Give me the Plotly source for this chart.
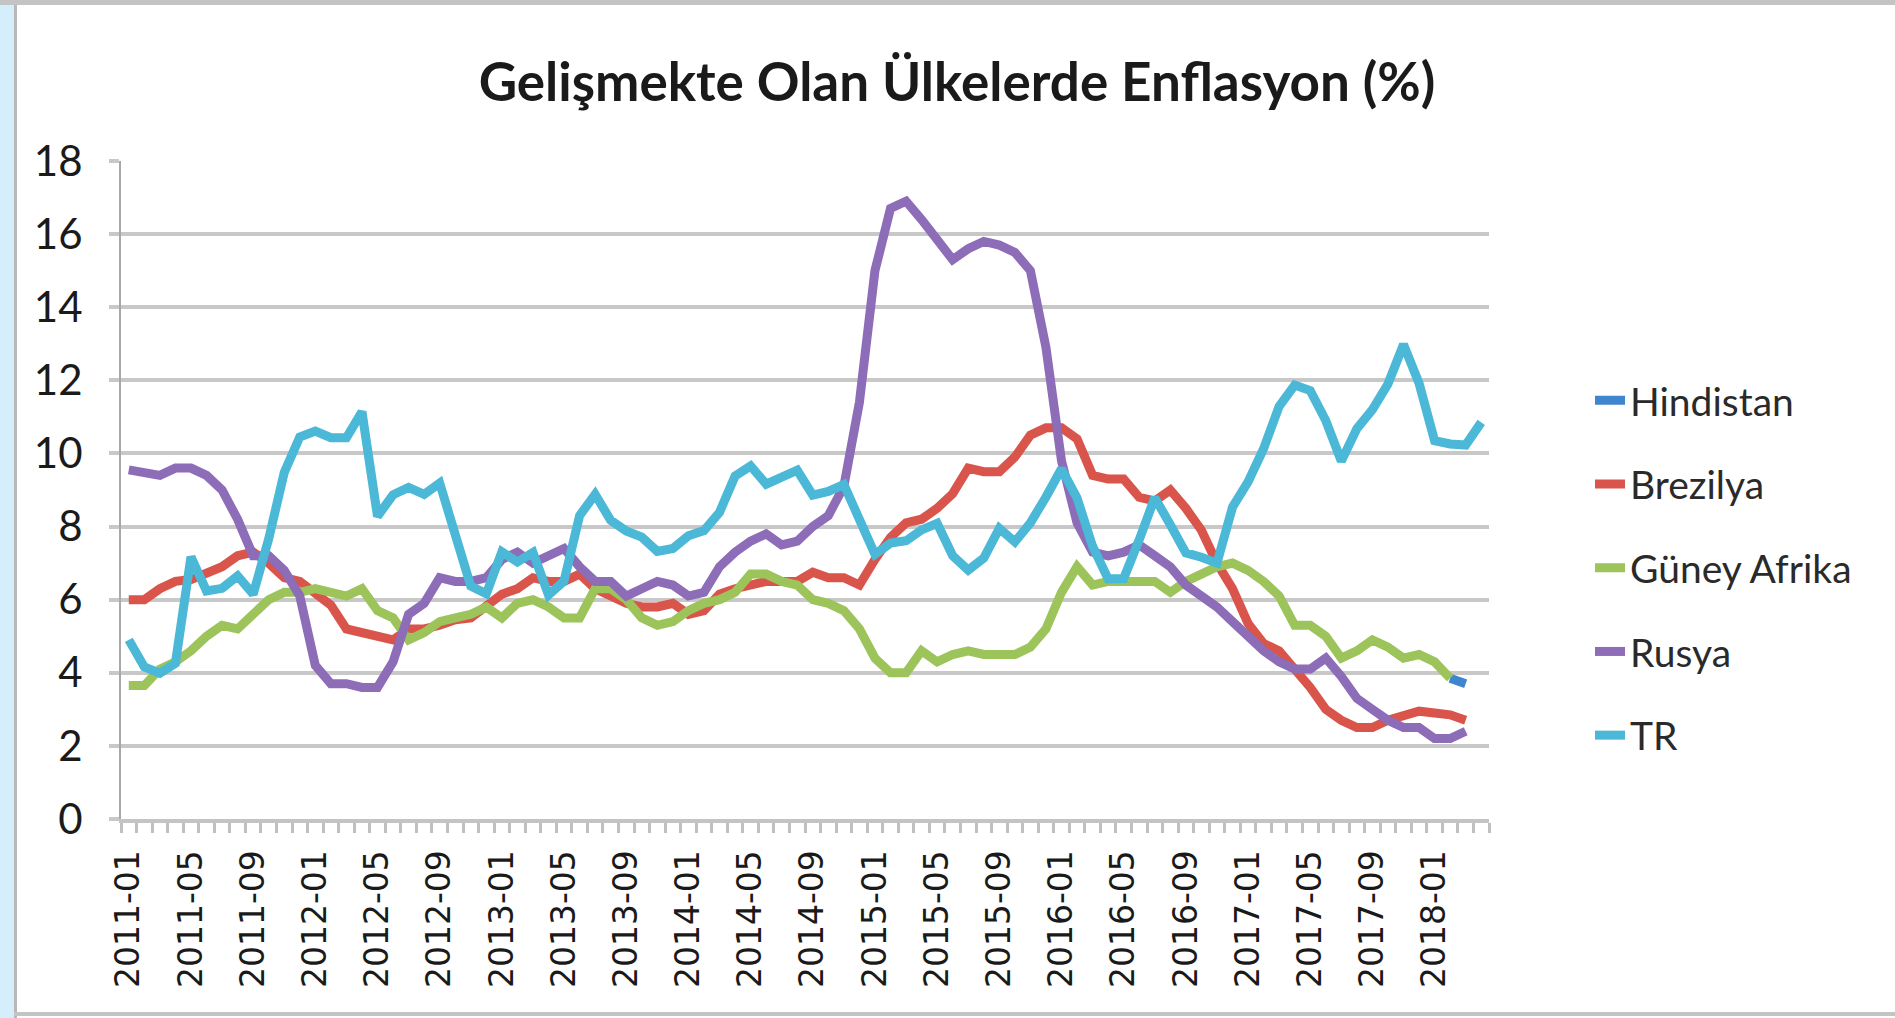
import plotly.graph_objects as go

# ---------------- data ----------------
years = list(range(2011, 2019))
months = [f"{y}-{m:02d}" for y in years for m in range(1, 13)][:88]   # 2011-01 .. 2018-04

hindistan = [None] * 85 + [3.85, 3.7, None]

brezilya = [
    6.0, 6.0, 6.3, 6.5, 6.55, 6.7, 6.9, 7.2, 7.3, 7.0, 6.6, 6.5,
    6.2, 5.85, 5.2, 5.1, 5.0, 4.9, 5.2, 5.2, 5.3, 5.45, 5.5, 5.8,
    6.15, 6.3, 6.6, 6.5, 6.5, 6.7, 6.3, 6.1, 5.9, 5.8, 5.8, 5.9,
    5.6, 5.7, 6.15, 6.3, 6.4, 6.5, 6.5, 6.5, 6.75, 6.6, 6.6, 6.4,
    7.1, 7.7, 8.1, 8.2, 8.5, 8.9, 9.6, 9.5, 9.5, 9.9, 10.5, 10.7,
    10.7, 10.4, 9.4, 9.3, 9.3, 8.8, 8.7, 9.0, 8.5, 7.9, 7.0, 6.3,
    5.35, 4.8, 4.6, 4.1, 3.6, 3.0, 2.7, 2.5, 2.5, 2.7, 2.8, 2.95,
    2.9, 2.85, 2.7, None,
]

guney_afrika = [
    3.65, 3.65, 4.1, 4.3, 4.6, 5.0, 5.3, 5.2, 5.6, 6.0, 6.2, 6.2,
    6.3, 6.2, 6.1, 6.3, 5.7, 5.5, 4.9, 5.1, 5.4, 5.5, 5.6, 5.8,
    5.5, 5.9, 6.0, 5.8, 5.5, 5.5, 6.3, 6.3, 6.0, 5.5, 5.3, 5.4,
    5.7, 5.9, 6.0, 6.2, 6.7, 6.7, 6.5, 6.4, 6.0, 5.9, 5.7, 5.2,
    4.4, 4.0, 4.0, 4.6, 4.3, 4.5, 4.6, 4.5, 4.5, 4.5, 4.7, 5.2,
    6.2, 6.9, 6.4, 6.5, 6.5, 6.5, 6.5, 6.2, 6.5, 6.7, 6.9, 7.0,
    6.8, 6.5, 6.1, 5.3, 5.3, 5.0, 4.4, 4.6, 4.9, 4.7, 4.4, 4.5,
    4.3, 3.85, None, None,
]

rusya = [
    9.55, 9.5, 9.4, 9.6, 9.6, 9.4, 9.0, 8.2, 7.2, 7.2, 6.8, 6.1,
    4.2, 3.7, 3.7, 3.6, 3.6, 4.3, 5.6, 5.9, 6.6, 6.5, 6.5, 6.6,
    7.1, 7.3, 7.0, 7.2, 7.4, 6.9, 6.5, 6.5, 6.1, 6.3, 6.5, 6.4,
    6.1, 6.2, 6.9, 7.3, 7.6, 7.8, 7.5, 7.6, 8.0, 8.3, 9.1, 11.4,
    15.0, 16.7, 16.9, 16.4, 15.8, 15.3, 15.6, 15.8, 15.7, 15.5, 15.0, 12.9,
    9.8, 8.1, 7.3, 7.2, 7.3, 7.5, 7.2, 6.9, 6.4, 6.1, 5.8, 5.4,
    5.0, 4.6, 4.3, 4.1, 4.1, 4.4, 3.9, 3.3, 3.0, 2.7, 2.5, 2.5,
    2.2, 2.2, 2.4, None,
]

tr = [
    4.90, 4.16, 3.99, 4.26, 7.17, 6.24, 6.31, 6.65, 6.15, 7.66, 9.48, 10.45,
    10.61, 10.43, 10.43, 11.14, 8.28, 8.87, 9.07, 8.88, 9.19, 7.80, 6.37, 6.16,
    7.31, 7.03, 7.29, 6.13, 6.51, 8.30, 8.88, 8.17, 7.88, 7.71, 7.32, 7.40,
    7.75, 7.89, 8.39, 9.38, 9.66, 9.16, 9.32, 9.54, 8.86, 8.96, 9.15, 8.17,
    7.24, 7.55, 7.61, 7.91, 8.09, 7.20, 6.81, 7.14, 7.95, 7.58, 8.10, 8.81,
    9.58, 8.78, 7.46, 6.57, 6.58, 7.64, 8.79, 8.05, 7.28, 7.16, 7.00, 8.53,
    9.22, 10.13, 11.29, 11.87, 11.72, 10.90, 9.79, 10.68, 11.20, 11.90, 12.98, 11.92,
    10.35, 10.26, 10.23, 10.85,
]

series_names = ["Hindistan", "Brezilya", "Güney Afrika", "Rusya", "TR"]
series_values = [hindistan, brezilya, guney_afrika, rusya, tr]
series_colors = ["#3f86cf", "#d9544a", "#9cc45a", "#8d6cb8", "#4ab8d6"]

tick_labels = [m if i % 4 == 0 else "" for i, m in enumerate(months)]
y_ticks = list(range(0, 19, 2))

title_text = "Gelişmekte Olan Ülkelerde Enflasyon (%)"

# ---------------- layout geometry ----------------
W, H = 1895, 1018
ML, MR, MT, MB = 121, 406, 161, 199
PW, PH = W - ML - MR, H - MT - MB


def px(x):
    return (x - ML) / PW


def py(y):
    return (H - MB - y) / PH


fig = go.Figure()
for name, vals, col in zip(series_names, series_values, series_colors):
    fig.add_trace(go.Scatter(
        x=months, y=vals, name=name, mode="lines",
        line=dict(color=col, width=9),
        connectgaps=False, legendgroup=name,
    ))

grid_col = "#c8c8c8"
fig.update_layout(
    width=W, height=H,
    margin=dict(l=ML, r=MR, t=MT, b=MB),
    paper_bgcolor="white", plot_bgcolor="white",
    title=dict(text=title_text, x=957 / W, y=1 - 82 / H, xanchor="center", yanchor="middle",
               font=dict(family="Lato", size=53, color="#1a1a1a", weight=700)),
    showlegend=True,
    legend=dict(x=px(1590), y=py(568), xanchor="left", yanchor="middle",
                font=dict(family="Lato", size=39, color="#2a2a2a"),
                tracegroupgap=30, bgcolor="rgba(0,0,0,0)", itemwidth=30),
    xaxis=dict(
        type="category", categoryorder="array", categoryarray=months,
        range=[-0.5, len(months) - 0.5],
        tickmode="array", tickvals=months, ticktext=tick_labels,
        tickson="boundaries", ticks="outside", ticklen=10, tickwidth=3, tickcolor="#c0c0c0",
        tickangle=-90, tickfont=dict(family="DejaVu Sans", size=33, color="#1a1a1a"),
        ticklabelstandoff=14,
        showgrid=False, showline=True, linecolor="#c4c4c4", linewidth=4,
        zeroline=False,
    ),
    yaxis=dict(
        range=[0, 18], tickmode="array", tickvals=y_ticks,
        ticks="outside", ticklen=10, tickwidth=4, tickcolor=grid_col,
        tickfont=dict(family="Lato", size=42, color="#1a1a1a"),
        ticklabelstandoff=18,
        showgrid=True, gridcolor=grid_col, gridwidth=4,
        showline=True, linecolor="#a8a8a8", linewidth=2,
        zeroline=False,
    ),
    shapes=[
        dict(type="rect", xref="paper", yref="paper", x0=px(0), x1=px(14), y0=py(H), y1=py(0),
             fillcolor="#d5eefb", line=dict(width=0), layer="below"),
        dict(type="rect", xref="paper", yref="paper", x0=px(14), x1=px(17), y0=py(H), y1=py(0),
             fillcolor="#b8b8b8", line=dict(width=0), layer="below"),
        dict(type="rect", xref="paper", yref="paper", x0=px(0), x1=px(W), y0=py(5), y1=py(0),
             fillcolor="#c4c4c4", line=dict(width=0), layer="below"),
        dict(type="rect", xref="paper", yref="paper", x0=px(14), x1=px(W), y0=py(1016), y1=py(1012),
             fillcolor="#c4c4c4", line=dict(width=0), layer="below"),
    ],
)

fig.write_html(
    "out.html",
    config={"displayModeBar": False},
    post_script="document.body.style.margin='0';document.body.style.overflow='hidden';",
)
